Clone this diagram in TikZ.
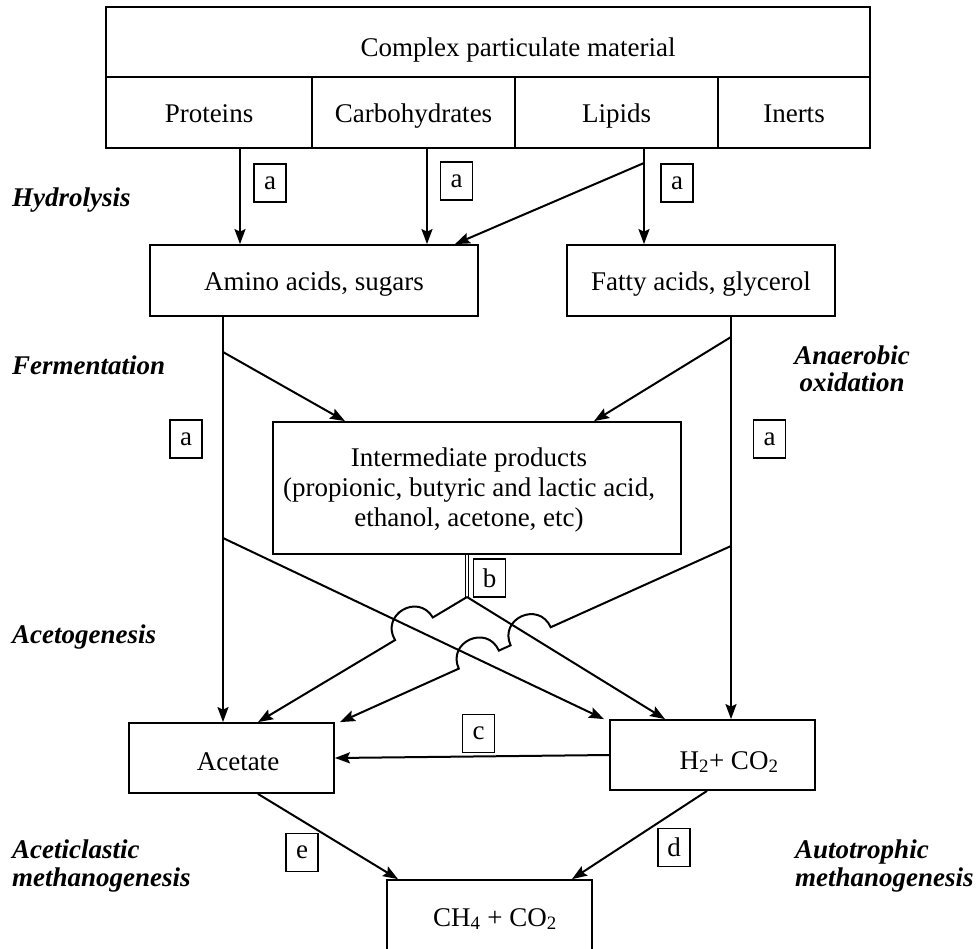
\documentclass[tikz,border=0pt]{standalone}
\usepackage{fontspec}
\setmainfont{Liberation Serif}
\usetikzlibrary{arrows.meta,calc}
\begin{document}
\begin{tikzpicture}[x=1pt,y=-1pt,
  every node/.style={inner sep=0pt},
  font=\fontsize{27}{30}\selectfont,
  box/.style={draw, line width=1.8pt, text height=26pt, text depth=6pt},
  plainbox/.style={draw, line width=1.8pt},
  lab/.style={draw, line width=1.5pt, minimum width=32pt, minimum height=38pt},
  arr/.style={line width=2pt, -{Stealth[length=15pt,width=11pt,inset=2.5pt]}},
  stage/.style={font=\fontsize{27}{27.5}\selectfont\bfseries\itshape},
  stagetwo/.style={font=\fontsize{27}{27.5}\selectfont\bfseries\itshape, align=left}
]
\useasboundingbox (0,0) rectangle (976,948);

% ---------- top table ----------
\node[plainbox, minimum width=764pt, minimum height=70pt] (cpm) at (488,42) {};
\node[anchor=base] (cpmtext) at (518,56) {Complex particulate material};
\node[box, minimum width=206pt, minimum height=71pt] (prot) at (209,112.5) {Proteins};
\node[box, minimum width=203pt, minimum height=71pt] (carb) at (413.5,112.5) {Carbohydrates};
\node[box, minimum width=203pt, minimum height=71pt] (lip) at (616.5,112.5) {Lipids};
\node[box, minimum width=152pt, minimum height=71pt] (inert) at (794,112.5) {Inerts};

% ---------- boxes ----------
\node[box, minimum width=328pt, minimum height=71pt] (amino) at (314,280.5) {Amino acids, sugars};
\node[box, minimum width=268pt, minimum height=71pt] (fatty) at (701,280.5) {Fatty acids, glycerol};
\node[plainbox, minimum width=408pt, minimum height=132pt] (inter) at (477,488) {};
\node[align=center, font=\fontsize{27}{30}\selectfont] (intertext) at (469,490)
  {Intermediate products\\(propionic, butyric and lactic acid,\\ethanol, acetone, etc)};
\node[plainbox, minimum width=205pt, minimum height=70pt] (acetate) at (231.5,758) {};
\node[anchor=base] (acetatetext) at (238,770) {Acetate};
\node[plainbox, minimum width=205pt, minimum height=70pt] (h2) at (712.5,755) {};
\node[anchor=base] (h2text) at (729,769) {H\textsubscript{2}+ CO\textsubscript{2}};
\node[plainbox, minimum width=205pt, minimum height=100pt] (ch4) at (489.5,930) {};
\node[anchor=base] (ch4text) at (495,926) {CH\textsubscript{4} + CO\textsubscript{2}};

% ---------- stage labels ----------
\node[stage, anchor=west] (hyd) at (12,200) {Hydrolysis};
\node[stage, anchor=west] (ferm) at (12,365) {Fermentation};
\node[stagetwo, align=center] (anox) at (852,369) {Anaerobic\\oxidation};
\node[stage, anchor=west] (acetog) at (12,637) {Acetogenesis};
\node[stagetwo, anchor=west] (acmeth) at (12,866) {Aceticlastic\\methanogenesis};
\node[stagetwo, anchor=west] (autmeth) at (795,866) {Autotrophic\\methanogenesis};

% ---------- process letters ----------
\node[lab] (a1) at (270,183) {a};
\node[lab] (a2) at (456.5,181) {a};
\node[lab] (a3) at (677,183) {a};
\node[lab] (a4) at (186,439) {a};
\node[lab] (a5) at (769.5,439) {a};
\node[lab] (lb) at (489.5,578) {b};
\node[lab] (lc) at (478.5,733.5) {c};
\node[lab] (ld) at (674,847.5) {d};
\node[lab] (le) at (302,852.5) {e};

% ---------- hydrolysis ----------
\coordinate (lipfork) at (644,163);
\draw[arr] (240,0 |- prot.south) -- (240,0 |- amino.north);
\draw[arr] (427,0 |- carb.south) -- (427,0 |- amino.north);
\draw[arr] (644,0 |- lip.south) -- (644,0 |- fatty.north);
\draw[arr] (lipfork) -- (455,0 |- amino.north);

% ---------- fermentation / anaerobic oxidation ----------
\coordinate (lf) at (223,352);
\coordinate (rf) at (731,337);
\draw[arr] (223,0 |- amino.south) -- (223,0 |- acetate.north);
\draw[arr] (731,0 |- fatty.south) -- (731,0 |- h2.north);
\draw[arr] (lf) -- (345,0 |- inter.north);
\draw[arr] (rf) -- (594,0 |- inter.north);

% ---------- acetogenesis ----------
\coordinate (J) at (467,597);
\draw[line width=0.9pt, double, double distance=2.2pt] (467,0 |- inter.south) -- (J);

\coordinate (L1s) at (223,538);
\coordinate (L1e) at (604,0 |- h2.north);
\coordinate (L2e) at (258,0 |- acetate.north);
\coordinate (L3e) at (665,0 |- h2.north);
\coordinate (L4s) at (731,546);
\coordinate (L4e) at (340,0 |- acetate.north);
\coordinate (X12) at (intersection of L1s--L1e and J--L2e);
\coordinate (X43) at (intersection of L4s--L4e and J--L3e);
\coordinate (X41) at (intersection of L4s--L4e and L1s--L1e);

% hop points
\coordinate (H1a) at ($(X12)!22pt!(J)$);
\coordinate (H1b) at ($(X12)!22pt!(L2e)$);
\coordinate (H1ac) at ($(H1a)!29.3pt!-90:(H1b)$);
\coordinate (H1bc) at ($(H1b)!29.3pt!90:(H1a)$);
\coordinate (H3a) at ($(X43)!22pt!(L4s)$);
\coordinate (H3b) at ($(X43)!22pt!(L4e)$);
\coordinate (H3ac) at ($(H3a)!29.3pt!-90:(H3b)$);
\coordinate (H3bc) at ($(H3b)!29.3pt!90:(H3a)$);
\coordinate (H4a) at ($(X41)!22pt!(L4s)$);
\coordinate (H4b) at ($(X41)!22pt!(L4e)$);
\coordinate (H4ac) at ($(H4a)!29.3pt!-90:(H4b)$);
\coordinate (H4bc) at ($(H4b)!29.3pt!90:(H4a)$);

\draw[arr] (L1s) -- (L1e);
\draw[arr] (J) -- (L3e);
\draw[arr] (J) -- (H1a) .. controls (H1ac) and (H1bc) .. (H1b) -- (L2e);
\draw[arr] (L4s) -- (H3a) .. controls (H3ac) and (H3bc) .. (H3b)
  -- (H4a) .. controls (H4ac) and (H4bc) .. (H4b) -- (L4e);

% ---------- methanogenesis ----------
\draw[arr] (h2.west) -- (acetate.east);
\draw[arr] (258,0 |- acetate.south) -- (398,0 |- ch4.north);
\draw[arr] (707,0 |- h2.south) -- (572,0 |- ch4.north);
\end{tikzpicture}
\end{document}
